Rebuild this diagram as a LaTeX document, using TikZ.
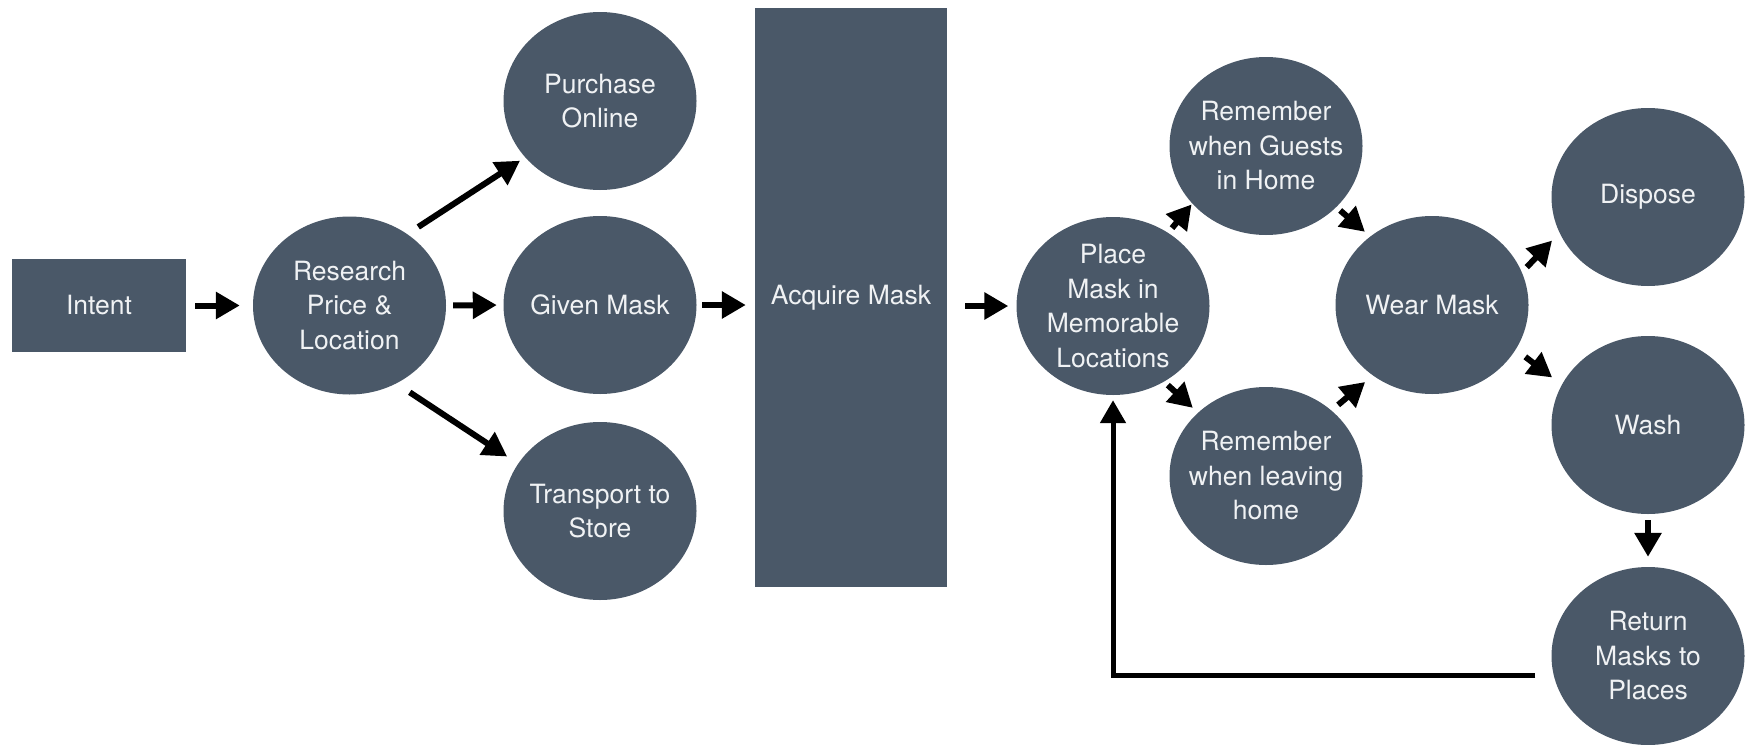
\documentclass[tikz,border=0pt]{standalone}
\usepackage{fontspec}
\setmainfont{TeX Gyre Heros}
\usetikzlibrary{shapes.geometric,arrows.meta}
\definecolor{slate}{RGB}{74,88,104}
\definecolor{txt}{RGB}{240,242,244}
\begin{document}
\begin{tikzpicture}[x=1pt,y=-1pt,
  box/.style={rectangle, fill=slate, text=txt, inner sep=0pt, font=\fontsize{26.5}{34.5}\selectfont},
  bubble/.style={ellipse, fill=slate, minimum width=193pt, minimum height=178pt, inner sep=0pt},
  lbl/.style={text=txt, align=center, inner sep=0pt, font=\fontsize{26.5}{34.5}\selectfont},
  arr/.style={line width=6pt, -{Triangle[length=24pt,width=26pt]}},
  backarr/.style={line width=5pt, -{Triangle[length=23pt,width=25pt]}}
]
\fill[white] (0,0) rectangle (1747,744);
\useasboundingbox (0,0) rectangle (1747,744);

\node[box, minimum width=174pt, minimum height=93pt] (intent) at (99,305.5) {Intent};
\node[bubble, label={[lbl,name=researchtxt]center:Research\\Price \&\\Location}] (research) at (349.5,305.5) {};
\node[bubble, label={[lbl,name=purchasetxt]center:Purchase\\Online}] (purchase) at (600,101) {};
\node[bubble, label={[lbl,name=giventxt]center:Given Mask}] (given) at (600,305) {};
\node[bubble, label={[lbl,name=transporttxt]center:Transport to\\Store}] (transport) at (600,511) {};
\node[box, minimum width=192pt, minimum height=579pt] (acquire) at (851,297.5) {Acquire Mask};
\node[bubble, label={[lbl,name=placetxt]center:Place\\Mask in\\Memorable\\Locations}] (place) at (1113,306) {};
\node[bubble, label={[lbl,name=gueststxt]center:Remember\\when Guests\\in Home}] (guests) at (1266,146) {};
\node[bubble, label={[lbl,name=leavingtxt]center:Remember\\when leaving\\home}] (leaving) at (1266,476) {};
\node[bubble, label={[lbl,name=weartxt]center:Wear Mask}] (wear) at (1432,305) {};
\node[bubble, label={[lbl,name=disposetxt]center:Dispose}] (dispose) at (1648,197) {};
\node[bubble, label={[lbl,name=washtxt]center:Wash}] (wash) at (1648,425) {};
\node[bubble, label={[lbl,name=rettxt]center:Return\\Masks to\\Places}] (ret) at (1648,656) {};

\draw[arr, shorten <=9pt, shorten >=13pt] (intent.east) -- (research.west);
\draw[arr, shorten <=13pt, shorten >=6pt] (research.51) -- (purchase.217);
\draw[arr, shorten <=7pt, shorten >=6.5pt] (research.east) -- (given.west);
\draw[arr, shorten <=16pt, shorten >=13pt] (research.-59) -- (transport.150);
\draw[arr, shorten <=5.5pt, shorten >=9pt] (given.east) -- (given.east -| acquire.west);
\draw[arr, shorten <=18pt, shorten >=8pt] (place.west -| acquire.east) -- (place.west);
\draw[arr, shorten <=6pt, shorten >=1pt] (place.53) -- (guests.218);
\draw[arr, shorten <=5pt, shorten >=7pt] (guests.-41) -- (wear.132);
\draw[arr, shorten <=5pt, shorten >=7pt] (place.-56) -- (leaving.137);
\draw[arr, shorten <=8.6pt, shorten >=10pt] (leaving.45) -- (wear.230);
\draw[arr, shorten <=7pt, shorten >=10.7pt] (wear.20) -- (dispose.202);
\draw[arr, shorten <=12pt, shorten >=12pt] (wear.-28) -- (wash.155);
\draw[arr, shorten <=6pt, shorten >=10pt] (wash.south) -- (ret.north);
\draw[backarr, shorten >=5pt] ([xshift=-16pt,yshift=-19pt]ret.west) -| (place.south);
\end{tikzpicture}
\end{document}
